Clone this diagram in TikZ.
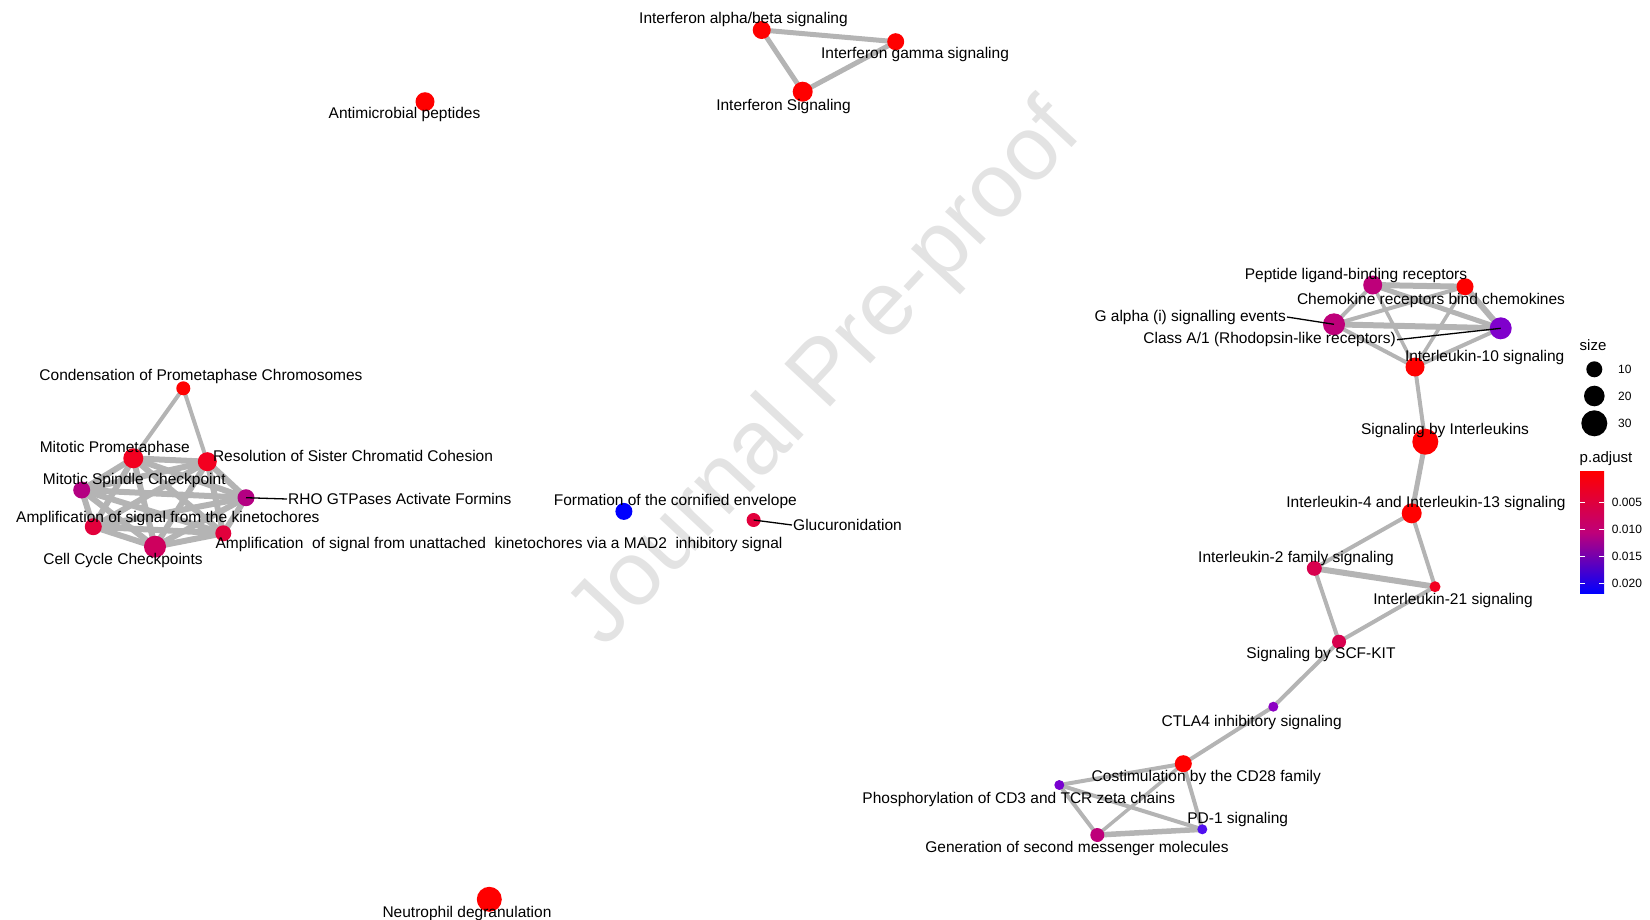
\documentclass[tikz,border=0pt]{standalone}
\usepackage{fontspec}
\setmainfont{Liberation Sans}
\pgfdeclarelayer{bg}
\pgfsetlayers{bg,main}
\definecolor{edgec}{RGB}{180,180,180}
\definecolor{wm}{RGB}{227,227,227}
\definecolor{cA}{RGB}{255,0,0}
\definecolor{cB}{RGB}{243,0,32}
\definecolor{cC}{RGB}{226,0,60}
\definecolor{cD}{RGB}{206,0,94}
\definecolor{cE}{RGB}{190,0,122}
\definecolor{cF}{RGB}{180,0,130}
\definecolor{cG}{RGB}{140,0,195}
\definecolor{cH}{RGB}{120,0,208}
\definecolor{cI}{RGB}{80,16,240}
\definecolor{cJ}{RGB}{0,0,255}
\definecolor{cK}{RGB}{216,0,78}
\definecolor{cL}{RGB}{128,0,204}
\tikzset{
  vert/.style={circle,inner sep=0pt,draw=none},
  lab/.style={inner sep=1pt,anchor=mid,yshift=-3pt,font=\fontsize{15.5}{18}\selectfont},
  ed/.style={draw=edgec,line width=#1},
  ed/.default=4,
  leader/.style={draw=black,line width=1.3},
  legt/.style={font=\fontsize{15}{18}\selectfont},
  legs/.style={font=\fontsize{12}{14}\selectfont,anchor=west,inner sep=0pt}
}
\begin{document}
\begin{tikzpicture}[x=1pt,y=-1pt]
\useasboundingbox (0,0) rectangle (1650,919);
% watermark
\node[text=wm,rotate=47,font=\fontsize{91}{100}\selectfont,inner sep=0pt] (wmark) at (827,376) {Journal Pre-proof};

% vertices
\newcommand{\vtx}[5]{\node[vert,fill=#5,minimum size=#4*2pt] (#1) at (#2,#3) {};}
\vtx{ifnab}{761.7}{30}{9}{cA}
\vtx{ifng}{895.7}{41.7}{8.5}{cA}
\vtx{ifns}{802.7}{91.7}{10}{cA}
\vtx{amp}{425}{101.7}{9.5}{cA}
\vtx{neut}{489.3}{899.3}{12.5}{cA}
\vtx{cond}{183.3}{388.3}{7}{cA}
\vtx{mp}{133.3}{458.3}{10}{cB}
\vtx{res}{207.3}{461.7}{9.5}{cB}
\vtx{spc}{81.7}{490}{8.5}{cF}
\vtx{rho}{246}{497.7}{8.5}{cF}
\vtx{ampk}{93.3}{526.7}{8.5}{cC}
\vtx{ampu}{223.3}{533.3}{8}{cC}
\vtx{ccc}{155}{546.7}{11}{cD}
\vtx{form}{623.9}{511.4}{8.5}{cJ}
\vtx{gluc}{753.6}{520}{7}{cC}
\vtx{pep}{1372.7}{285}{9.5}{cE}
\vtx{chem}{1465}{286.7}{8.5}{cA}
\vtx{galpha}{1334}{324.3}{11}{cE}
\vtx{classa}{1500.7}{328.3}{11}{cL}
\vtx{il10}{1415}{367}{9.5}{cA}
\vtx{sbi}{1425.3}{441.7}{13}{cA}
\vtx{il4}{1411.7}{513.3}{10}{cA}
\vtx{il2}{1314.3}{568.3}{7.5}{cK}
\vtx{il21}{1435}{586.7}{5.5}{cB}
\vtx{scf}{1339}{641.7}{7}{cK}
\vtx{ctla}{1273.3}{706.7}{5}{cG}
\vtx{cd28}{1183.3}{763.7}{8.5}{cA}
\vtx{phos}{1059.3}{785}{5}{cH}
\vtx{pd1}{1202.3}{829.3}{5}{cI}
\vtx{gen}{1097.3}{835}{7}{cE}

% edges
\begin{pgfonlayer}{bg}
\draw[ed=5] (ifnab.center) -- (ifng.center);
\draw[ed=5] (ifnab.center) -- (ifns.center);
\draw[ed=5] (ifng.center) -- (ifns.center);
\draw[ed=4] (cond.center) -- (mp.center);
\draw[ed=4] (cond.center) -- (res.center);
\foreach \a/\b in {mp/res,mp/spc,mp/rho,mp/ampk,mp/ampu,mp/ccc,res/spc,res/rho,res/ampk,res/ampu,res/ccc,spc/rho,spc/ampk,spc/ampu,spc/ccc,rho/ampk,rho/ampu,rho/ccc,ampk/ampu,ampk/ccc,ampu/ccc}
  \draw[ed=6] (\a.center) -- (\b.center);
\draw[ed=6] (pep.center) -- (chem.center);
\draw[ed=4] (pep.center) -- (galpha.center);
\draw[ed=5] (pep.center) -- (classa.center);
\draw[ed=3.5] (pep.center) -- (il10.center);
\draw[ed=4] (chem.center) -- (galpha.center);
\draw[ed=6] (chem.center) -- (classa.center);
\draw[ed=3.5] (chem.center) -- (il10.center);
\draw[ed=6] (galpha.center) -- (classa.center);
\draw[ed=4] (galpha.center) -- (il10.center);
\draw[ed=4] (classa.center) -- (il10.center);
\draw[ed=4] (il10.center) -- (sbi.center);
\draw[ed=5] (sbi.center) -- (il4.center);
\draw[ed=4] (il4.center) -- (il2.center);
\draw[ed=4] (il4.center) -- (il21.center);
\draw[ed=6] (il2.center) -- (il21.center);
\draw[ed=4] (il2.center) -- (scf.center);
\draw[ed=4] (il21.center) -- (scf.center);
\draw[ed=4] (scf.center) -- (ctla.center);
\draw[ed=4] (ctla.center) -- (cd28.center);
\draw[ed=4] (cd28.center) -- (phos.center);
\draw[ed=3.5] (cd28.center) -- (gen.center);
\draw[ed=4] (cd28.center) -- (pd1.center);
\draw[ed=4] (phos.center) -- (gen.center);
\draw[ed=4] (phos.center) -- (pd1.center);
\draw[ed=5.5] (gen.center) -- (pd1.center);
\end{pgfonlayer}

% labels
\node[lab] (ifnab-l) at (743.5,18.3) {Interferon alpha/beta signaling};
\node[lab] (ifng-l) at (915,53) {Interferon gamma signaling};
\node[lab] (ifns-l) at (783.5,105) {Interferon Signaling};
\node[lab] (amp-l) at (404.5,113) {Antimicrobial peptides};
\node[lab] (neut-l) at (467,911.7) {Neutrophil degranulation};
\node[lab] (cond-l) at (201,375) {Condensation of Prometaphase Chromosomes};
\node[lab] (mp-l) at (114.7,447.3) {Mitotic Prometaphase};
\node[lab] (res-l) at (353,456) {Resolution of Sister Chromatid Cohesion};
\node[lab] (spc-l) at (134.3,479) {Mitotic Spindle Checkpoint};
\node[lab,anchor=west] (rho-l) at (287,496) {RHO GTPases Activate Formins};
\node[lab] (ampk-l) at (167.8,516.7) {Amplification of signal from the kinetochores};
\node[lab] (ampu-l) at (499,543) {Amplification\ \ of signal from unattached\ \ kinetochores via a MAD2\ \ inhibitory signal};
\node[lab] (ccc-l) at (123,559) {Cell Cycle Checkpoints};
\node[lab] (form-l) at (675.3,500) {Formation of the cornified envelope};
\node[lab,anchor=west] (gluc-l) at (792,522) {Glucuronidation};
\node[lab] (pep-l) at (1356,274) {Peptide ligand-binding receptors};
\node[lab] (chem-l) at (1431,299.3) {Chemokine receptors bind chemokines};
\node[lab,anchor=east] (galpha-l) at (1287,314) {G alpha (i) signalling events};
\node[lab,anchor=east] (classa-l) at (1397,336.7) {Class A/1 (Rhodopsin-like receptors)};
\node[lab] (il10-l) at (1484.7,356) {Interleukin-10 signaling};
\node[lab] (sbi-l) at (1445,429.3) {Signaling by Interleukins};
\node[lab] (il4-l) at (1426,501.7) {Interleukin-4 and Interleukin-13 signaling};
\node[lab] (il2-l) at (1296,556.7) {Interleukin-2 family signaling};
\node[lab] (il21-l) at (1453,599.3) {Interleukin-21 signaling};
\node[lab] (scf-l) at (1321,653.3) {Signaling by SCF-KIT};
\node[lab] (ctla-l) at (1251.7,720.7) {CTLA4 inhibitory signaling};
\node[lab] (cd28-l) at (1206.3,776) {Costimulation by the CD28 family};
\node[lab] (phos-l) at (1018.8,798.3) {Phosphorylation of CD3 and TCR zeta chains};
\node[lab] (pd1-l) at (1237.7,818.3) {PD-1 signaling};
\node[lab] (gen-l) at (1077,847.3) {Generation of second messenger molecules};

% leader lines
\draw[leader] (rho.center) -- (rho-l.west);
\draw[leader] (gluc.center) -- (gluc-l.west);
\draw[leader] (galpha-l.east) -- (galpha.center);
\draw[leader] (classa-l.east) -- (classa.center);

% legend
\node[legt] (sizet) at (1593,345) {size};
\node[vert,fill=black,minimum size=16pt] (s10) at (1594.3,369.3) {};
\node[vert,fill=black,minimum size=20.6pt] (s20) at (1594.3,396) {};
\node[vert,fill=black,minimum size=26pt] (s30) at (1594.3,423.3) {};
\node[legs] (s10-l) at (1618,369.3) {10};
\node[legs] (s20-l) at (1618,396) {20};
\node[legs] (s30-l) at (1618,423.3) {30};
\node[legt] (padj) at (1606,458.3) {p.adjust};
\shade[top color=cA, bottom color=cJ, middle color=cE] (1580,471.7) rectangle (1604,593.3);
\foreach \yy/\tt in {502.7/0.005,529.3/0.010,556/0.015,583.3/0.020}{
  \draw[white,line width=0.8] (1580,\yy) -- (1585,\yy);
  \draw[white,line width=0.8] (1599,\yy) -- (1604,\yy);
  \node[legs] at (1611.7,\yy) {\tt};
}
\end{tikzpicture}
\end{document}
